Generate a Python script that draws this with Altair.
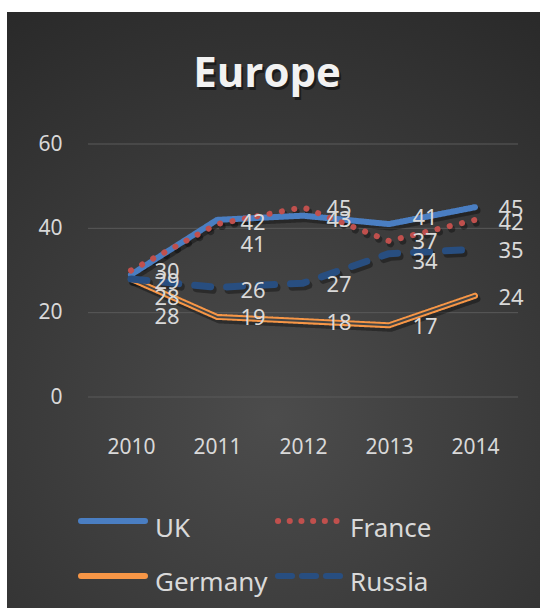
import altair as alt
import pandas as pd

years = ["2010", "2011", "2012", "2013", "2014"]
series_names = ["UK", "France", "Germany", "Russia"]
uk = [29, 42, 43, 41, 45]
france = [30, 41, 45, 37, 42]
germany = [28, 19, 18, 17, 24]
russia = [28, 26, 27, 34, 35]
y_ticks = [0, 20, 40, 60]
title_text = "Europe"

# style: vertical nudges (px, down) of the value labels
label_dy = {
    "UK": [7, 3, 4, -6, 2],
    "France": [1, 21, 2, 1, 3],
    "Germany": [38, 1, 2, 2, 2],
    "Russia": [19, 4, 2, 8, 2],
}

colors = ["#4a7ec2", "#c0504d", "#f79646", "#284e80"]
dashes = [[1, 0], [0.1, 12.5], [1, 0], [16, 16]]
legend_dashes = [[1, 0], [0.1, 11.6], [1, 0], [14, 10]]
widths = {"UK": 6, "France": 6, "Germany": 6, "Russia": 7}

values = {"UK": uk, "France": france, "Germany": germany, "Russia": russia}
rows = []
for s in series_names:
    for i, y in enumerate(years):
        rows.append({"series": s, "year": y, "value": values[s][i], "dy": label_dy[s][i]})
df = pd.DataFrame(rows)
legend_df = pd.DataFrame({"series": series_names,
                          "col": [i % 2 for i in range(4)],
                          "row": [i // 2 for i in range(4)]})

W, H = 430, 253
PX_PER_UNIT = H / 60.0

xenc = alt.X("year:O", scale=alt.Scale(type="point", padding=0.5),
             axis=alt.Axis(labelAngle=0, domain=False, ticks=False, grid=False, labelPadding=39,
                           labelFontSize=21, labelColor="#d9d9d9", labelFont="Noto Sans",
                           zindex=1),
             title=None)
yscale = alt.Scale(domain=[0, 60], nice=False)
yaxis = alt.Axis(values=y_ticks, domain=False, ticks=False, grid=False, labelPadding=26,
                 labelFontSize=21, labelColor="#d9d9d9", labelFont="Noto Sans", zindex=1)
yenc = alt.Y("value:Q", scale=yscale, axis=yaxis, title=None)

color_scale = alt.Scale(domain=series_names, range=colors)
line_color = alt.Color("series:N", scale=color_scale, legend=None)
dash_enc = alt.StrokeDash("series:N", scale=alt.Scale(domain=series_names, range=dashes), legend=None)

base = alt.Chart(df)
one = alt.Chart(pd.DataFrame({"t": [title_text]}))

bg = one.mark_rect(
    clip=False,
    fill={"gradient": "radial",
          "stops": [{"offset": 0, "color": "#4c4c4c"}, {"offset": 1, "color": "#282828"}],
          "x1": 0.5, "y1": 0.68, "r1": 0, "x2": 0.5, "y2": 0.68, "r2": 0.85},
).encode(x=alt.value(-81), x2=alt.value(452), y=alt.value(-132), y2=alt.value(464))

grid = alt.Chart(pd.DataFrame({"value": y_ticks})).mark_rule(color="#5a5a5a", strokeWidth=1).encode(
    y=yenc, x=alt.value(0), x2=alt.value(W))

title_shadow = one.mark_text(fontSize=42, fontWeight="bold", font="Open Sans", color="black",
                             opacity=0.45, baseline="alphabetic", align="center",
                             dx=2, dy=3).encode(text="t:N", x=alt.value(179), y=alt.value(-57))
title = one.mark_text(fontSize=42, fontWeight="bold", font="Open Sans", color="#f2f2f2",
                      baseline="alphabetic", align="center").encode(
    text="t:N", x=alt.value(179), y=alt.value(-57))

layers = [bg, grid, title_shadow, title]
for i, s in enumerate(series_names):
    sub = base.transform_filter(alt.datum.series == s)
    layers.append(sub.mark_line(color="black", opacity=0.35, strokeWidth=widths[s] + 1,
                                strokeDash=dashes[i], strokeCap="round", strokeJoin="round",
                                xOffset=2, yOffset=3).encode(x=xenc, y=yenc))
for i, s in enumerate(series_names):
    sub = base.transform_filter(alt.datum.series == s)
    layers.append(sub.mark_line(strokeWidth=widths[s], strokeCap="round", strokeJoin="round")
                  .encode(x=xenc, y=yenc, color=line_color, strokeDash=dash_enc))
    if s == "Germany":
        layers.append(sub.mark_line(strokeWidth=2, color="#454545", strokeCap="round",
                                    strokeJoin="round").encode(x=xenc, y=yenc))

labels = base.transform_calculate(
    lv=f"datum.value - datum.dy / {PX_PER_UNIT}"
).mark_text(fontSize=22, color="#d9d9d9", font="Noto Sans", align="center",
            baseline="middle", dx=36).encode(
    x=xenc, y=alt.Y("lv:Q", scale=yscale, axis=yaxis, title=None), text="value:Q")
layers.append(labels)

# legend (2 x 2 grid below the plot)
leg = alt.Chart(legend_df).transform_calculate(
    sx="-7 + datum.col * 197", sx2="57 + datum.col * 197",
    sy="377 + datum.row * 55", lx="67 + datum.col * 195", ly="393 + datum.row * 54",
)
for i, s in enumerate(series_names):
    layers.append(leg.transform_filter(alt.datum.series == s).mark_rule(
        strokeWidth=6, strokeCap="round", strokeDash=legend_dashes[i]).encode(
        x=alt.X("sx:Q", scale=None), x2="sx2:Q", y=alt.Y("sy:Q", scale=None),
        color=line_color))
layers.append(leg.mark_text(fontSize=26, color="#d9d9d9", font="Noto Sans", align="left",
                            baseline="alphabetic").encode(
    x=alt.X("lx:Q", scale=None), y=alt.Y("ly:Q", scale=None), text="series:N"))

chart = alt.layer(*layers).properties(
    width=W, height=H,
    background="white",
    padding={"left": 88, "top": 144, "right": 22, "bottom": 211},
    autosize=alt.AutoSizeParams(type="none"),
).configure_view(stroke=None)

chart.save("out.html", embed_options={"renderer": "svg", "actions": False})
